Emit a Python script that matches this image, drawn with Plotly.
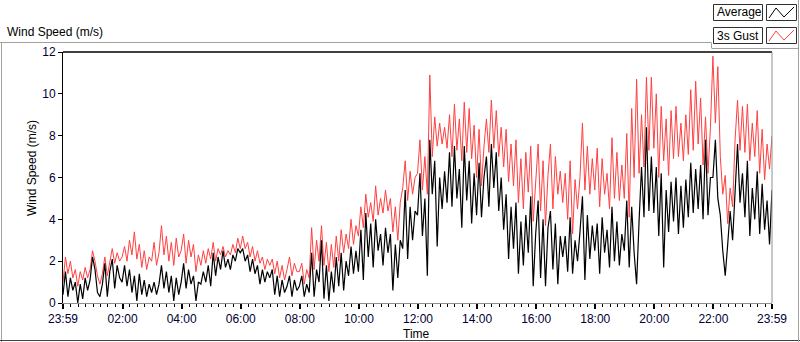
import plotly.graph_objects as go
import pandas as pd

# ---------------- data (5-minute samples, 23:59 -> 23:59) ----------------
gust_ms = [
    1.0, 2.2, 1.4, 2.0, 1.2, 1.6, 0.8, 1.5, 1.1, 1.7, 1.2, 1.6,
    2.5, 2.0, 1.3, 0.9, 1.4, 2.2, 1.3, 1.9, 2.6, 1.9, 2.4, 2.0,
    2.2, 2.7, 2.0, 3.0, 2.3, 3.4, 2.1, 2.8, 1.7, 2.5, 1.6, 2.2,
    2.0, 2.9, 1.8, 2.4, 3.7, 2.3, 3.2, 2.0, 2.9, 1.8, 3.1, 2.2,
    2.5, 3.3, 1.9, 3.0, 2.2, 2.8, 1.5, 2.3, 1.8, 2.5, 1.9, 2.6,
    2.1, 2.9, 2.0, 2.6, 2.3, 2.7, 2.2, 2.5, 2.3, 2.8, 2.4, 3.1,
    2.6, 3.2, 2.6, 2.9, 2.2, 2.7, 2.0, 2.5, 1.9, 2.2, 1.6, 2.1,
    1.8, 2.1, 1.4, 2.0, 1.2, 1.8, 1.1, 1.6, 2.2, 1.3, 1.9, 1.5,
    1.5, 1.9, 0.9, 1.6, 1.2, 3.6, 1.6, 3.0, 2.0, 3.7, 1.8, 2.9,
    1.5, 2.8, 1.7, 3.2, 2.0, 3.5, 2.4, 3.3, 2.6, 4.0, 2.8, 3.7,
    3.2, 4.6, 3.6, 5.2, 4.1, 4.8, 3.9, 5.6, 4.2, 5.0, 4.3, 5.4,
    4.4, 5.0, 3.4, 4.6, 3.0, 4.8, 5.5, 6.8, 4.9, 6.3, 5.2, 6.0,
    6.2, 7.8, 5.4, 7.0, 5.2, 10.9, 7.0, 8.9, 7.5, 8.6, 7.6, 8.4,
    7.4, 9.0, 7.0, 9.5, 7.3, 8.8, 6.8, 9.6, 7.2, 9.3, 6.9, 8.5,
    6.0, 8.3, 5.6, 7.5, 8.8, 7.2, 9.7, 7.4, 9.2, 7.0, 8.4, 6.5,
    8.3, 5.8, 7.6, 5.6, 7.8, 4.8, 6.9, 4.5, 7.2, 5.3, 7.5, 3.9,
    5.9, 7.6, 4.4, 6.8, 3.7, 6.1, 7.6, 4.5, 7.0, 5.2, 6.3, 4.8,
    6.2, 4.0, 6.8, 3.3, 5.9, 4.5, 6.0, 8.6, 5.4, 7.5, 5.2, 6.9,
    5.4, 7.4, 4.6, 6.9, 5.2, 6.2, 4.5, 7.9, 5.0, 7.2, 4.9, 6.6,
    5.0, 8.1, 4.1, 9.3, 6.0, 10.7, 6.2, 9.0, 6.5, 10.8, 7.3, 10.8,
    7.4, 10.0, 6.0, 9.4, 6.8, 8.8, 6.1, 9.2, 6.9, 9.4, 7.0, 8.6,
    6.8, 9.0, 7.1, 10.2, 7.3, 10.6, 7.6, 9.8, 6.6, 8.9, 6.2, 8.4,
    11.8, 8.6, 11.3, 7.0, 5.2, 6.1, 3.8, 5.5, 4.6, 7.8, 9.7, 7.3,
    9.4, 7.2, 9.5, 6.8, 8.6, 7.0, 9.2, 6.2, 8.3, 5.9, 7.6, 6.4,
    8.0,
]

avg_ms = [
    0.4, 1.5, 0.3, 1.2, 0.6, 1.0, 0.0, 0.9, 0.2, 1.2, 0.6, 1.1,
    2.2, 1.6, 0.5, 0.3, 0.9, 1.9, 0.3, 1.5, 2.1, 0.7, 1.8, 1.2,
    1.0, 1.8, 0.8, 1.6, 0.5, 1.3, 0.1, 1.4, 0.4, 1.1, 0.3, 0.9,
    0.5, 1.0, 0.4, 0.9, 1.8, 0.7, 1.5, 0.5, 1.3, 0.1, 1.2, 0.4,
    1.0, 1.9, 0.7, 1.6, 0.9, 1.3, 0.1, 1.0, 0.9, 1.5, 1.0, 1.8,
    0.8, 2.4, 1.3, 2.2, 1.6, 2.5, 1.7, 2.1, 1.6, 2.3, 2.0, 2.6,
    2.4, 2.6, 2.0, 2.3, 1.5, 2.1, 1.4, 1.8, 0.9, 1.6, 1.0, 1.5,
    1.2, 1.6, 0.4, 1.3, 0.3, 1.1, 0.5, 0.8, 1.3, 0.3, 1.1, 0.6,
    0.8, 1.3, 0.3, 0.9, 0.5, 2.4, 0.3, 1.6, 1.0, 3.0, 0.2, 1.8,
    0.1, 1.5, 0.5, 2.2, 0.8, 2.4, 0.6, 2.0, 1.3, 2.7, 1.4, 2.5,
    1.5, 3.5, 1.1, 4.3, 2.2, 3.8, 1.7, 4.0, 2.5, 3.3, 1.8, 3.6,
    2.4, 3.3, 0.6, 2.8, 1.2, 3.0, 2.6, 5.4, 2.1, 4.6, 3.0, 4.4,
    4.2, 6.2, 3.2, 5.0, 1.3, 7.8, 5.2, 6.8, 2.7, 6.0, 4.5, 6.3,
    4.8, 7.2, 4.6, 7.5, 5.0, 6.4, 3.6, 7.5, 4.9, 6.8, 3.8, 6.2,
    4.2, 6.7, 4.1, 6.0, 7.0, 4.6, 7.6, 5.5, 7.2, 4.4, 6.0, 3.5,
    5.2, 2.1, 4.6, 2.6, 4.8, 1.4, 3.9, 1.8, 4.2, 2.4, 5.1, 0.8,
    3.3, 4.9, 1.2, 4.0, 0.8, 3.6, 4.4, 1.6, 3.8, 0.9, 3.2, 2.2,
    3.2, 1.5, 4.1, 1.4, 3.0, 2.0, 3.4, 5.1, 1.1, 4.2, 2.1, 3.7,
    2.5, 3.8, 1.4, 4.1, 2.4, 3.5, 1.7, 4.6, 2.0, 3.9, 1.8, 3.3,
    2.5, 4.9, 1.7, 4.6, 2.4, 0.9, 3.9, 6.5, 4.1, 8.4, 4.4, 7.0,
    4.3, 6.5, 3.2, 6.2, 1.7, 5.4, 3.4, 5.8, 3.9, 6.0, 3.3, 5.6,
    3.6, 5.9, 4.1, 6.7, 4.3, 6.4, 4.5, 6.6, 4.0, 7.8, 4.2, 6.0,
    6.0, 7.8, 5.0, 4.2, 2.5, 1.3, 2.8, 4.4, 3.0, 5.5, 7.6, 4.8,
    6.2, 4.1, 6.8, 3.2, 5.5, 4.0, 6.3, 3.3, 5.7, 3.5, 4.9, 2.8,
    5.4,
]

x_tick_text = ["23:59", "02:00", "04:00", "06:00", "08:00", "10:00", "12:00",
               "14:00", "16:00", "18:00", "20:00", "22:00", "23:59"]
y_tick_vals = [0, 2, 4, 6, 8, 10, 12]
series_names = ["Average", "3s Gust"]

# ---------------- time axis ----------------
start = pd.Timestamp("2024-01-01 23:59")
end = start + pd.Timedelta(hours=24)
times = pd.date_range(start, periods=len(avg_ms), freq="5min")

fmt = "%Y-%m-%d %H:%M:%S"
tick_vals = [start.strftime(fmt)] + \
    [("2024-01-02 " + t + ":00") for t in x_tick_text[1:-1]] + [end.strftime(fmt)]
minor_vals = [t.strftime(fmt) for t in pd.date_range("2024-01-02 00:15", "2024-01-02 23:45", freq="15min")
              if t.minute != 0 or t.hour % 2 == 1]

FONT = "Liberation Sans, Arial, sans-serif"
RED = "#FF4040"

fig = go.Figure()
fig.add_trace(go.Scatter(x=times, y=gust_ms, mode="lines", name=series_names[1],
                         line=dict(color=RED, width=1)))
fig.add_trace(go.Scatter(x=times, y=avg_ms, mode="lines", name=series_names[0],
                         line=dict(color="#000000", width=1.2)))

L, R, T, B = 63, 772, 52, 303
W, H = R - L, B - T


def X(px):
    return (px - L) / W


def Y(py):
    return (B - py) / H


shapes = []


def line(x0, y0, x1, y1, color, width=1):
    shapes.append(dict(type="line", xref="paper", yref="paper",
                       x0=X(x0), y0=Y(y0), x1=X(x1), y1=Y(y1),
                       line=dict(color=color, width=width)))


def rect(x0, y0, x1, y1, color, fill="white"):
    shapes.append(dict(type="rect", xref="paper", yref="paper",
                       x0=X(x0), y0=Y(y0), x1=X(x1), y1=Y(y1),
                       line=dict(color=color, width=1), fillcolor=fill))


def path(points, color):
    d = "M " + " L ".join(f"{X(a)},{Y(b)}" for a, b in points)
    shapes.append(dict(type="path", xref="paper", yref="paper", path=d,
                       line=dict(color=color, width=1)))


# outer panel frame
line(0, 42.5, 711, 42.5, "#a0a0a0")
line(1.5, 42.5, 1.5, 342, "#a0a0a0")
line(0, 340.5, 800, 340.5, "#404040")
line(711.5, 42.5, 711.5, 48, "#a0a0a0")
line(711.5, 48.5, 798, 48.5, "#a0a0a0")
line(798.5, 0, 798.5, 342, "#a0a0a0")
# plot-area frame
line(L, T, R, T, "#000000", 1.5)
line(R, T, R, B, "#909090")

# legend
rect(713.5, 4.5, 762.5, 20.5, "#303030")
rect(766.5, 4.5, 796.5, 20.5, "#303030")
rect(713.5, 27.5, 762.5, 43.5, "#303030")
rect(766.5, 27.5, 796.5, 43.5, "#303030")
path([(769, 18), (776, 8), (784, 17), (794, 7)], "#000000")
path([(769, 41), (776, 31), (784, 40), (794, 30)], RED)

annotations = [
    dict(text="Wind Speed (m/s)", x=X(5), y=Y(32), xanchor="left", yanchor="middle"),
    dict(text="Wind Speed (m/s)", x=X(32), y=Y(168), xanchor="center", yanchor="middle", textangle=-90),
    dict(text="Time", x=X(416), y=Y(334), xanchor="center", yanchor="middle"),
    dict(text=series_names[0], x=X(715), y=Y(12.5), xanchor="left", yanchor="middle"),
    dict(text=series_names[1], x=X(715), y=Y(35.5), xanchor="left", yanchor="middle"),
]
for a in annotations:
    a.update(xref="paper", yref="paper", showarrow=False,
             font=dict(family=FONT, size=12, color="#000000"))

fig.update_layout(
    width=800, height=342,
    margin=dict(l=L, r=800 - R, t=T, b=342 - B),
    paper_bgcolor="white", plot_bgcolor="white",
    showlegend=False,
    font=dict(family=FONT, size=12, color="#000000"),
    shapes=shapes, annotations=annotations,
    xaxis=dict(
        type="date", range=[start.strftime(fmt), end.strftime(fmt)],
        tickmode="array", tickvals=tick_vals, ticktext=x_tick_text,
        ticks="outside", ticklen=5, tickwidth=2, tickcolor="#000000",
        showline=True, linecolor="#909090", linewidth=1,
        showgrid=False, zeroline=False,
        tickfont=dict(family=FONT, size=12, color="#000033"),
        minor=dict(tickmode="array", tickvals=minor_vals, ticks="outside",
                   ticklen=3, tickwidth=1, tickcolor="#000000", showgrid=False),
    ),
    yaxis=dict(
        range=[0, 12], tickmode="array", tickvals=y_tick_vals,
        ticks="outside", ticklen=4, tickcolor="#000000",
        showline=True, linecolor="#000000", linewidth=1,
        showgrid=False, zeroline=False,
        tickfont=dict(family=FONT, size=12, color="#000033"),
    ),
)

fig.write_html("out.html", config={"displayModeBar": False, "staticPlot": True},
               post_script="document.body.style.margin='0px';document.body.style.overflow='hidden';")
